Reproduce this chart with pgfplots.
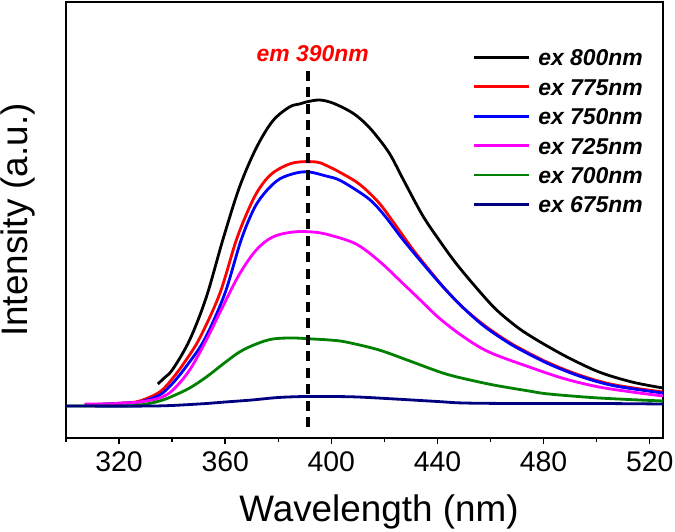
\documentclass[border=0pt]{standalone}
\usepackage{pgfplots}
\pgfplotsset{compat=1.18}
\usepackage{fontspec}
\setmainfont{Liberation Sans}
\definecolor{mygreen}{RGB}{0,128,0}
\definecolor{mynavy}{RGB}{0,0,128}
\definecolor{mymag}{RGB}{255,0,255}
\begin{document}
\begin{tikzpicture}
\path[use as bounding box] (-66bp,-94bp) rectangle (609bp,438bp);
\begin{axis}[
 scale only axis, width=597bp, height=436bp,
 xmin=300, xmax=525, ymin=-32, ymax=404,
 axis line style={line width=1.9bp},
 xtick={320,360,...,520},
 minor xtick={300,340,...,500},
 ytick=\empty,
 xtick pos=bottom, tick align=outside,
 major tick length=6bp, minor tick length=4bp,
 every tick/.style={line width=1.5bp, black},
 tick label style={font=\fontsize{28.5}{30}\selectfont},
 xticklabel style={yshift=-4bp},
 /pgf/number format/assume math mode=true,
 xlabel={Wavelength (nm)}, ylabel={Intensity (a.u.)},
 label style={font=\fontsize{37}{40}\selectfont},
 xlabel style={at={(axis description cs:0.5243,-0.1915)}, anchor=base},
 ylabel style={at={(axis description cs:-0.0637,0.5)}, anchor=base, rotate=0},
 legend style={draw=none, fill=none, at={(rel axis cs:0.6812,0.893)}, anchor=north west,
   font=\fontsize{23}{25}\selectfont\bfseries\itshape, row sep=12.4bp, inner sep=0pt,
   nodes={inner sep=0pt, text height=17bp, text depth=0pt},
   /tikz/every odd column/.style={column sep=7.7bp}},
 legend cell align=left,
 legend image code/.code={\draw[#1] (0bp,0bp) -- (55bp,0bp);},
 lw/.style={line width=2.8bp, smooth, tension=0.55},
]
\addplot[black, lw] coordinates {(334.6,22) (337,28) (340.3,37) (346.6,66) (352.9,109) (359.2,167) (365.4,219) (371.7,258) (377.9,285) (384.2,299) (388,302) (390.5,304) (395.5,306) (400.5,303) (406.8,295) (411,287) (415.5,275) (421.8,253) (426.8,228) (434.3,191) (440.6,166) (446.9,143) (454.4,119) (461.9,97) (469.5,80) (475,70) (482,59) (489.6,48) (500.9,34) (513.3,24) (525,18)};
\addlegendentry{ex 800nm}
\addplot[red, lw] coordinates {(307,1) (315,2) (322,3) (327.8,5) (335.3,14) (340.3,28) (345,45) (350.4,68) (357.9,112) (364.2,166) (369.2,199) (373,218) (377.9,233) (385.5,243) (394.3,244) (399.3,239) (403,234) (410.5,222) (418,203) (424.4,180) (430.6,157) (436.9,136) (443.2,116) (449.4,99) (457,82) (464.5,68) (470.8,58) (482,43) (494.5,30) (507,21) (525,14)};
\addlegendentry{ex 775nm}
\addplot[blue, lw] coordinates {(307,1) (315,2) (322,3) (327.8,4) (335.3,11) (340.3,23) (346,42) (352.3,67) (359.8,112) (366,166) (371,198) (375.5,215) (380.5,227) (386.7,233) (391.7,234) (398,230) (403,226) (410.5,214) (415.5,204) (420.5,189) (426.8,167) (434.3,143) (441.8,120) (449.4,99) (457,81) (464.5,67) (470.8,57) (482,42) (494.5,29) (507,20) (525,13)};
\addlegendentry{ex 750nm}
\addplot[mymag, lw] coordinates {(307,2) (315,2) (322,3) (327.8,4) (335.3,8) (340.3,16) (346.6,36) (352.9,66) (359.2,100) (365.4,132) (371.7,156) (377.9,169) (385.5,174) (393,174) (399.3,171) (409.3,162) (418,145) (426.8,123) (434.3,104) (440.6,88) (449.4,70) (459.4,54) (475.7,38) (488.2,27) (500.9,19) (513.3,14) (525,10)};
\addlegendentry{ex 725nm}
\addplot[mygreen, lw] coordinates {(300,0) (320,0) (328,1) (335.3,5) (340.3,10) (346.6,18) (352.9,29) (359.2,42) (365.4,54) (371.7,62) (377.9,67) (385.5,68) (393,67) (399.3,66) (405.5,64) (418,56) (430.6,44) (443.2,32) (455.7,24) (463.2,20) (474.5,15) (482,12) (500.9,8) (525,5)};
\addlegendentry{ex 700nm}
\addplot[mynavy, lw] coordinates {(300,0) (333,0) (350,2) (360,4) (370,6) (380,8.5) (390,9.5) (400,9.5) (410,9) (424,7) (440,4.5) (450,3) (470,2.5) (500,2.5) (525,2)};
\addlegendentry{ex 675nm}
\addplot[black, line width=3.2bp, dash pattern=on 10bp off 6.5bp, forget plot] coordinates {(391.2,335) (391.2,-25)};
\node[anchor=base, text=red, font=\fontsize{23}{25}\selectfont\bfseries\itshape, inner sep=0pt] at (axis cs:393,344) {em 390nm};
\end{axis}
\end{tikzpicture}
\end{document}
